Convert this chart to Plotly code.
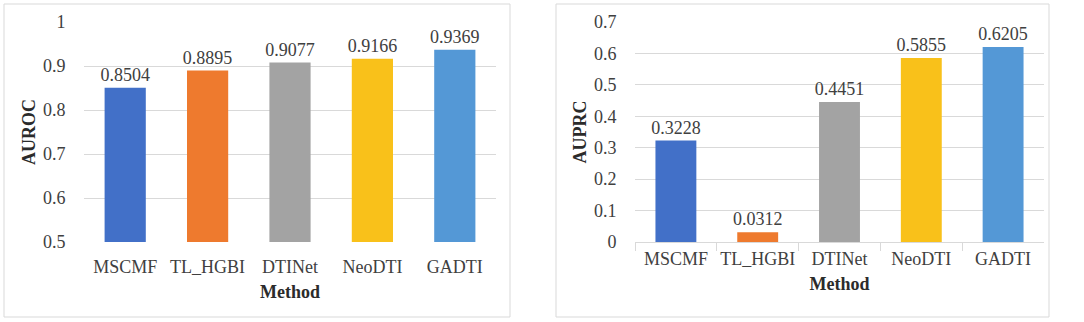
import plotly.graph_objects as go
from plotly.subplots import make_subplots

methods = ["MSCMF", "TL_HGBI", "DTINet", "NeoDTI", "GADTI"]
auroc = [0.8504, 0.8895, 0.9077, 0.9166, 0.9369]
auprc = [0.3228, 0.0312, 0.4451, 0.5855, 0.6205]
colors = ["#4270C8", "#EE7A2E", "#A3A3A3", "#F9C11A", "#5498D6"]

W, H = 1084, 322
FONT = "Liberation Serif"
TXT = "#404040"
TITLE = "#2B2B2B"
GRID = "#D9D9D9"

fig = make_subplots(rows=1, cols=2)

for col, vals in ((1, auroc), (2, auprc)):
    fig.add_trace(go.Bar(
        x=methods, y=vals, marker=dict(color=colors, line=dict(width=0)),
        width=0.5, text=[f"{v:.4f}" for v in vals], textposition="outside",
        constraintext="none",
        textfont=dict(family=FONT, size=18, color=TXT), cliponaxis=False,
        showlegend=False, hoverinfo="x+y"), row=1, col=col)

ybot = (H - 242) / H
ytop = (H - 22) / H

fig.update_layout(
    width=W, height=H, margin=dict(l=0, r=0, t=0, b=0),
    paper_bgcolor="white", plot_bgcolor="white",
    font=dict(family=FONT, size=18, color=TXT),
    bargap=0.5,
    xaxis=dict(domain=[84 / W, 496 / W]),
    xaxis2=dict(domain=[635 / W, 1044 / W]),
    yaxis=dict(domain=[ybot, ytop], range=[0.5, 1.0], dtick=0.1, tick0=0.5),
    yaxis2=dict(domain=[ybot, ytop], range=[0, 0.7], dtick=0.1, tick0=0),
)

for ax in ("xaxis", "xaxis2"):
    fig.layout[ax].update(
        title=dict(text="<b>Method</b>", font=dict(family=FONT, size=18, color=TITLE), standoff=9),
        tickfont=dict(family=FONT, size=18, color=TXT), showgrid=False,
        tickangle=0, automargin=False)
fig.layout.xaxis.update(showline=False, ticks="outside", ticklen=8, tickcolor="rgba(0,0,0,0)")
fig.layout.xaxis2.update(showline=True, linecolor=GRID, linewidth=1,
                         ticks="outside", tickson="boundaries", ticklen=8, tickcolor=GRID)

fig.layout.yaxis.update(title=dict(text="<b>AUROC</b>", font=dict(family=FONT, size=18, color=TITLE), standoff=2))
fig.layout.yaxis2.update(title=dict(text="<b>AUPRC</b>", font=dict(family=FONT, size=18, color=TITLE), standoff=2))
for ax in ("yaxis", "yaxis2"):
    fig.layout[ax].update(showgrid=True, gridcolor=GRID, gridwidth=1, zeroline=False,
                          showline=False, tickfont=dict(family=FONT, size=18, color=TXT),
                          ticks="outside", ticklen=14, tickcolor="rgba(0,0,0,0)",
                          automargin=False)

# panel borders
fig.add_shape(type="rect", xref="paper", yref="paper", x0=4 / W, x1=510 / W,
              y0=1 - 317 / H, y1=1 - 4 / H, line=dict(color=GRID, width=1))
fig.add_shape(type="rect", xref="paper", yref="paper", x0=556 / W, x1=1049 / W,
              y0=1 - 317 / H, y1=1 - 4 / H, line=dict(color=GRID, width=1))

fig.write_html("out.html", config={"displayModeBar": False},
               post_script="document.body.style.margin='0';document.body.style.overflow='hidden';")
